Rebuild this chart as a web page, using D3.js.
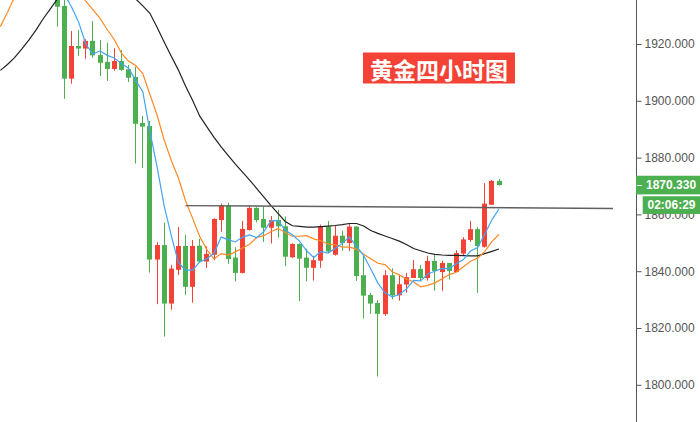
<!DOCTYPE html>
<html>
<head>
<meta charset="utf-8">
<script src="https://cdn.jsdelivr.net/npm/d3@7"></script>
<style>
  html, body { margin: 0; padding: 0; background: #fff; }
  svg { display: block; }
</style>
</head>
<body>
<svg id="chart" width="700" height="422"></svg>
<script>
// ---------------- DATA ----------------
const chartTitle = "黄金四小时图";
// candle index 0..62 (4-hour bars)
const candleOpen  = [1937.5,1933.4,1907.8,1919.3,1918.4,1921.1,1916.1,1913.7,1911.2,1914.0,
                     1911.1,1908.4,1892.2,1891.1,1844.1,1849.2,1828.6,1840.5,1848.9,1834.5,
                     1849.0,1843.4,1845.8,1858.0,1863.1,1844.8,1839.4,1854.5,1862.3,1858.4,
                     1855.3,1858.0,1855.8,1844.9,1849.6,1844.8,1841.2,1843.7,1855.7,1845.8,
                     1852.5,1849.9,1855.7,1838.6,1831.6,1828.8,1824.9,1838.6,1831.5,1835.3,
                     1837.6,1840.8,1837.6,1843.6,1839.7,1842.9,1839.7,1846.2,1851.0,1854.8,
                     1848.6,1863.4,1871.8];
const candleHigh  = [1939.0,1936.5,1924.6,1924.9,1921.7,1928.1,1921.4,1920.5,1918.5,1917.9,
                     1912.6,1912.0,1894.7,1892.9,1850.2,1857.1,1842.2,1855.6,1852.8,1851.0,
                     1851.4,1848.8,1858.6,1863.8,1864.1,1848.4,1857.7,1863.1,1862.5,1862.7,
                     1859.4,1861.6,1859.3,1849.8,1849.8,1847.9,1845.4,1856.4,1857.7,1856.2,
                     1854.3,1857.0,1855.9,1845.4,1832.4,1829.8,1840.3,1841.0,1838.6,1839.4,
                     1843.9,1842.2,1845.4,1845.7,1843.7,1842.9,1847.4,1852.0,1857.7,1855.5,
                     1871.0,1872.1,1872.5];
const candleLow   = [1926.1,1900.7,1906.0,1915.8,1914.8,1915.2,1908.7,1907.0,1910.6,1910.5,
                     1906.6,1877.9,1876.4,1839.5,1828.4,1817.0,1826.4,1838.7,1831.7,1828.9,
                     1843.0,1841.2,1843.9,1853.9,1842.6,1836.4,1839.2,1854.3,1857.2,1850.3,
                     1849.8,1851.8,1841.8,1844.7,1829.5,1836.4,1836.7,1841.2,1846.3,1845.5,
                     1847.2,1847.1,1836.6,1823.3,1825.0,1802.9,1824.3,1830.1,1829.6,1832.4,
                     1837.6,1836.9,1836.7,1833.1,1833.1,1837.0,1839.7,1845.6,1850.3,1832.4,
                     1848.3,1863.4,1870.1];
const candleClose = [1933.1,1907.8,1919.3,1918.4,1921.1,1916.0,1913.4,1911.2,1914.0,1910.9,
                     1908.1,1891.9,1890.9,1844.1,1849.2,1828.6,1840.9,1848.9,1834.5,1848.9,
                     1843.4,1846.1,1858.4,1863.1,1844.3,1839.4,1854.9,1862.3,1858.0,1855.3,
                     1858.0,1855.8,1845.1,1849.6,1844.4,1841.2,1843.9,1855.7,1846.9,1852.5,
                     1849.9,1855.7,1838.3,1831.4,1828.6,1825.0,1838.6,1831.5,1835.4,1837.9,
                     1840.7,1837.6,1843.6,1840.1,1842.9,1840.1,1846.4,1851.2,1854.8,1848.9,
                     1863.8,1871.8,1870.33];

// blue fast average, starting at candle index 0
const maFastStart = 0;
const maFast = [1941.0,1937.5,1933.0,1927.7,1919.9,1916.5,1917.6,1916.0,1915.1,1913.1,
                1911.5,1907.2,1903.2,1889.2,1876.8,1863.0,1852.5,1843.0,1840.4,1840.4,
                1843.3,1844.4,1846.3,1852.0,1851.1,1850.3,1852.0,1852.8,1851.8,1854.0,
                1857.7,1857.9,1854.4,1852.8,1850.6,1847.2,1844.8,1847.0,1846.4,1848.0,
                1849.8,1852.1,1848.7,1845.6,1840.8,1835.8,1832.4,1831.0,1831.8,1833.7,
                1836.8,1836.6,1839.0,1840.0,1841.0,1840.9,1842.6,1844.1,1847.1,1848.3,
                1853.0,1858.1,1861.9];
// orange average, starting at candle index -8 (left edge)
const maMidStart = -8;
const maMid = [1926.1,1931.1,1936.5,1940.0,1943.0,1945.0,1946.5,1947.0,
               1946.5,1945.0,1941.5,1938.3,1935.1,1932.1,1929.0,1925.1,1921.6,1916.8,
               1914.0,1912.4,1909.6,1902.2,1895.0,1886.2,1879.0,1872.8,1864.8,1858.6,
               1852.1,1847.6,1844.3,1846.2,1845.7,1846.8,1848.2,1849.5,1851.9,1852.5,
               1854.0,1855.0,1853.6,1852.3,1852.3,1852.5,1851.4,1850.7,1849.6,1849.3,
               1848.5,1848.5,1847.8,1846.0,1844.4,1842.8,1842.3,1839.8,1838.7,1837.2,
               1836.3,1834.5,1835.0,1835.9,1837.3,1838.8,1839.6,1841.6,1843.5,1844.6,
               1846.9,1850.4,1853.0];
// black slow average, starting at candle index -8
const maSlowStart = -8;
const maSlow = [1910.7,1912.8,1915.2,1918.2,1921.4,1924.9,1928.8,1932.3,
                1935.8,1938.5,1940.5,1942.0,1943.0,1943.5,1943.5,1943.0,1942.0,1940.5,
                1938.5,1935.9,1933.4,1930.8,1925.9,1920.7,1915.7,1910.8,1905.2,1900.1,
                1894.6,1890.8,1887.1,1883.8,1880.7,1877.7,1874.9,1872.1,1869.1,1866.1,
                1863.1,1860.3,1857.5,1856.0,1855.8,1855.5,1855.5,1855.7,1855.9,1856.1,
                1856.4,1856.8,1856.8,1855.9,1854.3,1853.3,1852.4,1851.5,1850.6,1849.4,
                1848.0,1847.2,1846.4,1845.9,1845.7,1845.6,1845.6,1845.5,1845.4,1845.4,
                1846.2,1847.0,1847.8];

// drawn trend line (candle index, price)
const trendIndex = [18, 78];
const trendPrice = [1863.1, 1862.1];

const yTicks = [1800, 1820, 1840, 1860, 1880, 1900, 1920];
const lastPrice = 1870.33;
const countdown = "02:06:29";

// ---------------- LAYOUT ----------------
const W = 700, H = 422;
const plotRight = 636;
const svg = d3.select("#chart");

const x = d3.scaleLinear().domain([0, 62]).range([57.3, 499]);
const y = d3.scaleLinear().domain([1800, 1920]).range([384.8, 44]);

const green = "#4caf50", red = "#f44336";

svg.append("defs").append("clipPath").attr("id", "plotClip")
  .append("rect").attr("x", 0).attr("y", 0).attr("width", plotRight).attr("height", H);

const plot = svg.append("g").attr("clip-path", "url(#plotClip)");

// candles
const candles = candleOpen.map((o, i) => ({
  i, o, h: candleHigh[i], l: candleLow[i], c: candleClose[i]
}));
const bodyW = 5;
const cg = plot.append("g");
candles.forEach(d => {
  const col = d.c > d.o ? red : green;
  const bx = Math.round(x(d.i) - bodyW / 2);
  cg.append("line")
    .attr("x1", bx + 2.5).attr("x2", bx + 2.5)
    .attr("y1", y(d.h)).attr("y2", y(d.l))
    .attr("stroke", col).attr("stroke-width", 1);
  const top = y(Math.max(d.o, d.c)), bot = y(Math.min(d.o, d.c));
  cg.append("rect")
    .attr("x", bx).attr("width", bodyW)
    .attr("y", top).attr("height", Math.max(1.5, bot - top))
    .attr("fill", col);
});

// moving average lines
function seriesPoints(arr, start) { return arr.map((v, k) => [start + k, v]); }
const line = d3.line().x(d => x(d[0])).y(d => y(d[1]));

plot.append("path").datum(seriesPoints(maSlow, maSlowStart))
  .attr("d", line).attr("fill", "none").attr("stroke", "#222").attr("stroke-width", 1.2);
plot.append("path").datum(seriesPoints(maMid, maMidStart))
  .attr("d", line).attr("fill", "none").attr("stroke", "#ff8a26").attr("stroke-width", 1.2);
plot.append("path").datum(seriesPoints(maFast, maFastStart))
  .attr("d", line).attr("fill", "none").attr("stroke", "#42a5f5").attr("stroke-width", 1.2);

// trend line
plot.append("path").datum(trendIndex.map((t, k) => [t, trendPrice[k]]))
  .attr("d", line).attr("fill", "none").attr("stroke", "#606060").attr("stroke-width", 1.4);

// title
const tg = svg.append("g");
tg.append("rect").attr("x", 363).attr("y", 52.5).attr("width", 152).attr("height", 31).attr("fill", red);
tg.append("text").attr("x", 439).attr("y", 68.5)
  .attr("text-anchor", "middle").attr("dominant-baseline", "central")
  .attr("fill", "#fff").attr("font-weight", "bold")
  .attr("font-family", "'Noto Sans CJK SC', sans-serif").attr("font-size", 23)
  .text(chartTitle);

// right axis
const axisG = svg.append("g").attr("transform", `translate(${plotRight + 0.5},0)`);
axisG.call(d3.axisRight(y).tickValues(yTicks).tickFormat(d3.format(".3f")).tickSize(5).tickPadding(3));
axisG.select(".domain").remove();
axisG.append("line").attr("x1", 0).attr("x2", 0).attr("y1", 0).attr("y2", H)
  .attr("stroke", "#555").attr("stroke-width", 1);
axisG.selectAll(".tick line").attr("stroke", "#555");
axisG.selectAll(".tick text").attr("fill", "#555")
  .attr("font-family", "'Liberation Sans', Arial, sans-serif").attr("font-size", 12);

// last price label
const py = y(lastPrice);
svg.append("rect").attr("x", plotRight).attr("y", py - 9.3).attr("width", W - plotRight).attr("height", 18.6).attr("fill", green);
svg.append("line").attr("x1", plotRight + 1).attr("x2", plotRight + 6).attr("y1", Math.round(py) + 0.5).attr("y2", Math.round(py) + 0.5)
  .attr("stroke", "#fff");
svg.append("text").attr("x", 646).attr("y", py).attr("dominant-baseline", "central")
  .attr("fill", "#fff").attr("font-weight", "bold")
  .attr("font-family", "'Liberation Sans', Arial, sans-serif").attr("font-size", 12)
  .text(d3.format(".3f")(lastPrice));

// countdown label
svg.append("rect").attr("x", 642.7).attr("y", py + 11.2).attr("width", W - 642.7).attr("height", 17.7).attr("fill", green);
svg.append("text").attr("x", 647.5).attr("y", py + 20).attr("dominant-baseline", "central")
  .attr("fill", "#fff").attr("font-weight", "bold")
  .attr("font-family", "'Liberation Sans', Arial, sans-serif").attr("font-size", 12)
  .text(countdown);
</script>
</body>
</html>
